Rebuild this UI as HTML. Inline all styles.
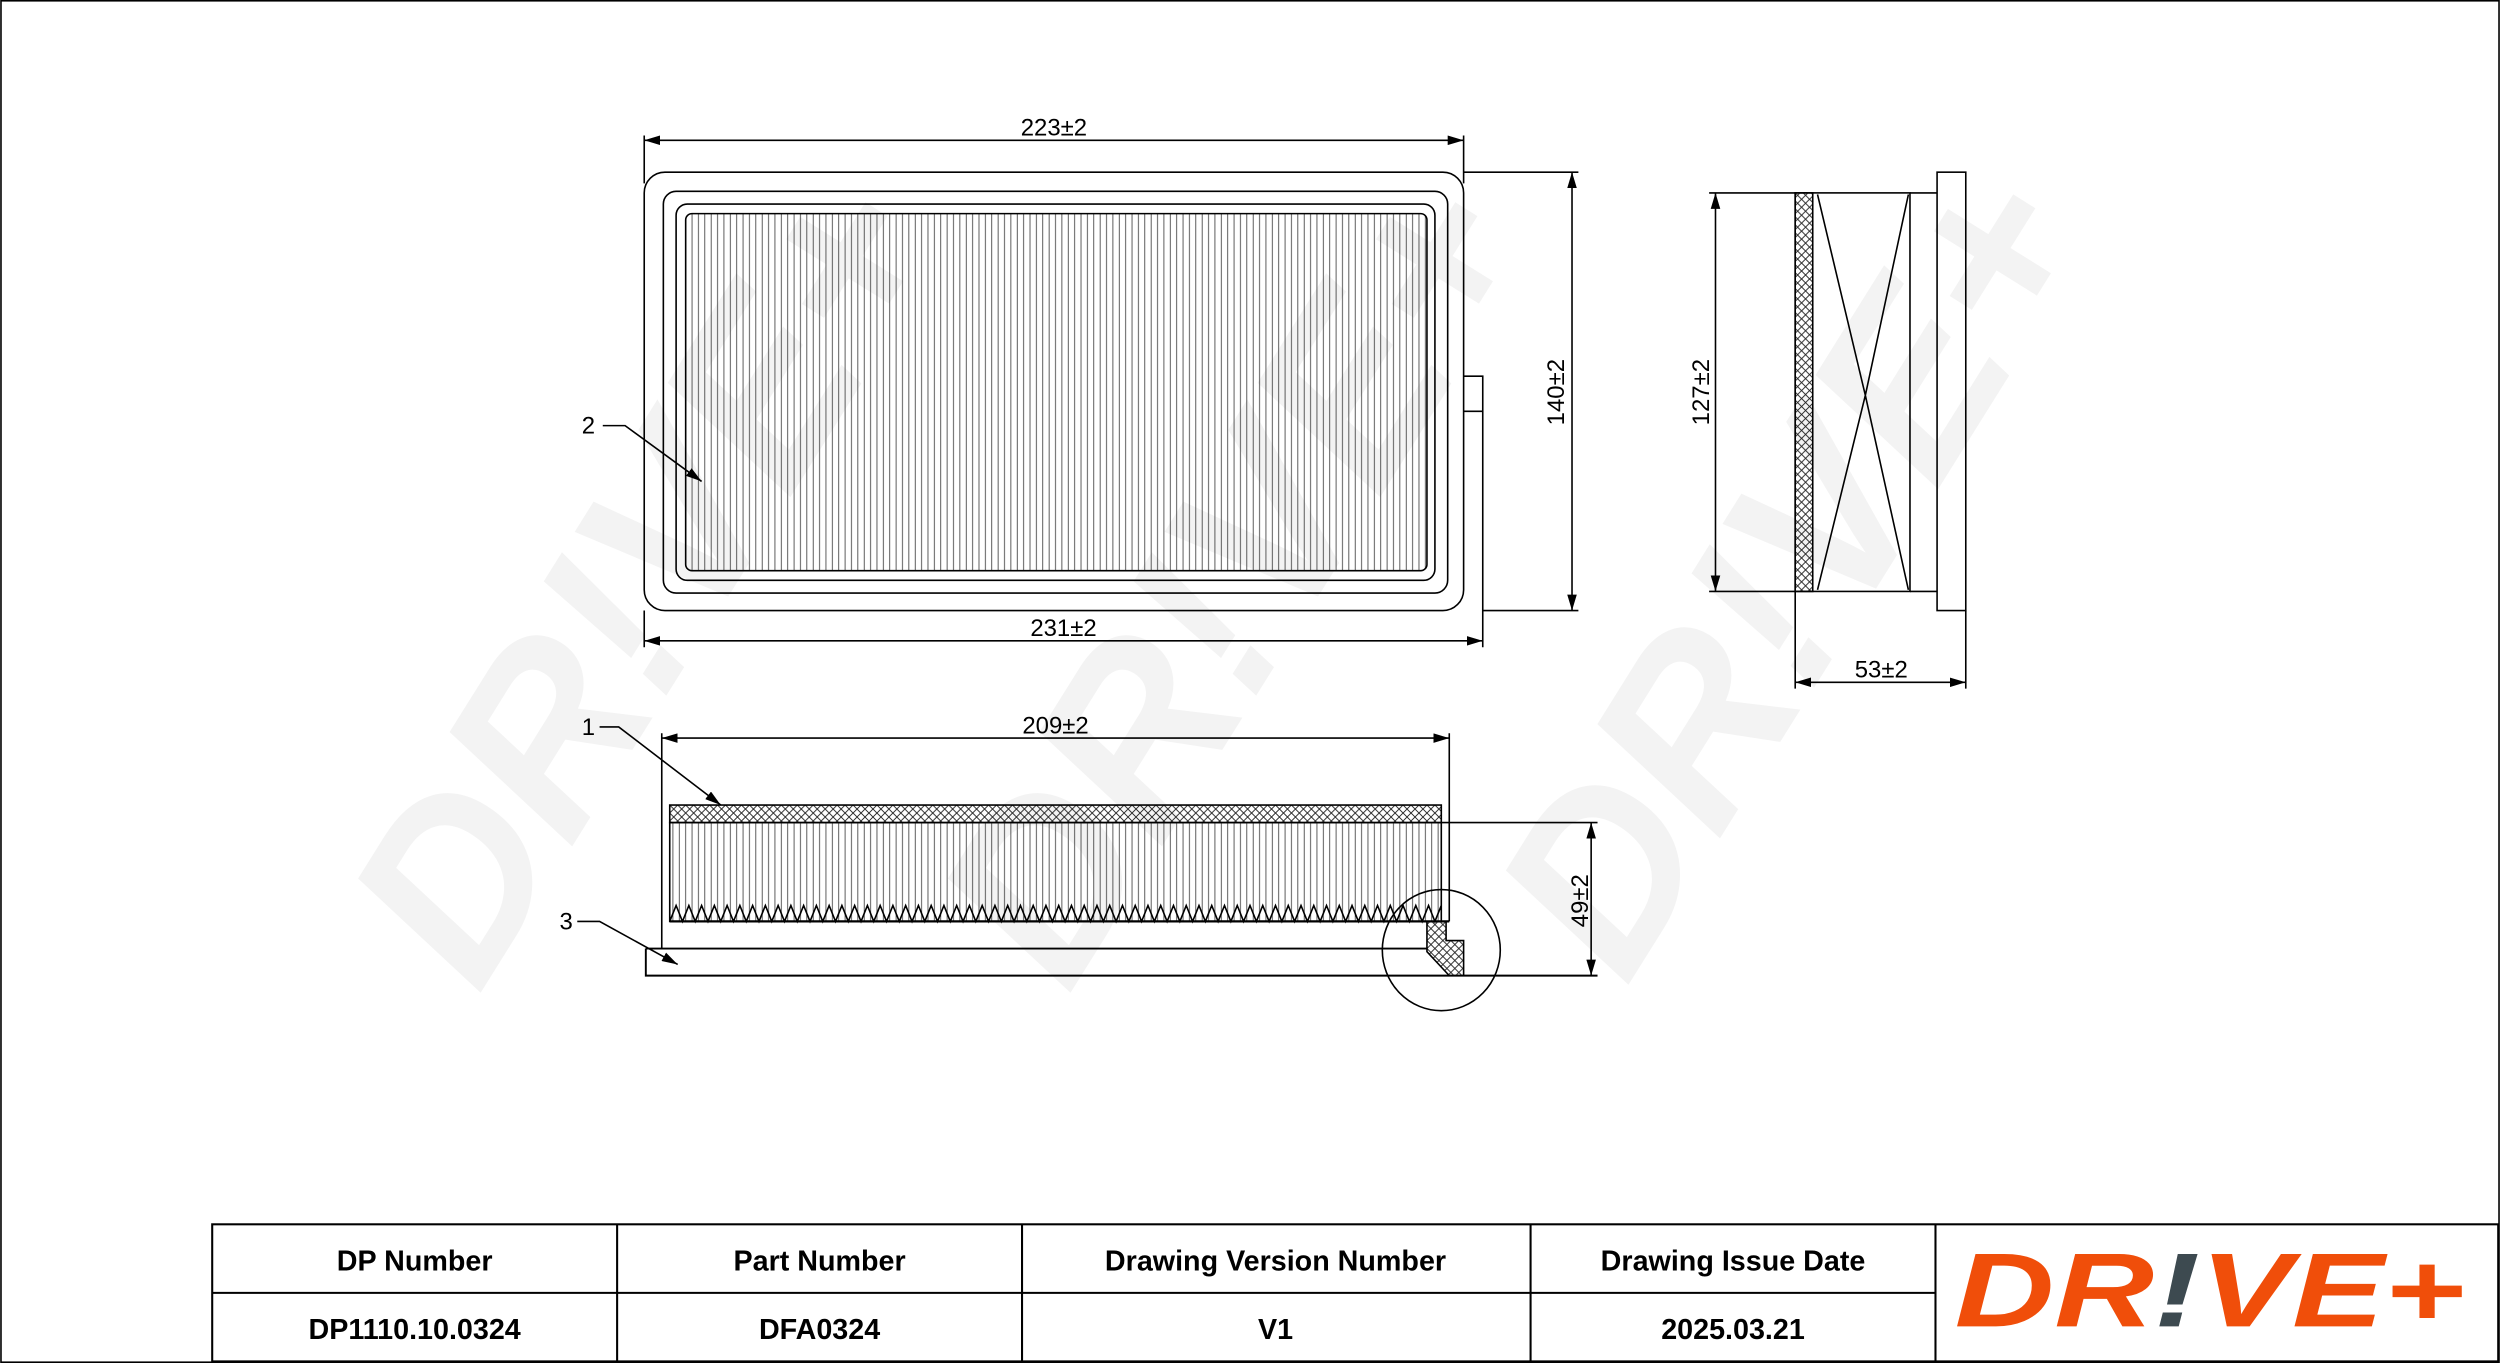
<!DOCTYPE html>
<html><head><meta charset="utf-8"><style>
html,body{margin:0;padding:0;background:#fff}
svg{display:block}
text{font-family:"Liberation Sans",sans-serif}
</style></head><body>
<svg width="2500" height="1363" viewBox="0 0 1568 855" xmlns="http://www.w3.org/2000/svg">
<defs>
<pattern id="pl" width="4" height="10" patternUnits="userSpaceOnUse"><line x1="2" y1="0" x2="2" y2="10" stroke="#333" stroke-width="0.5"/></pattern>
<pattern id="xh" width="5" height="5" patternUnits="userSpaceOnUse"><path d="M0,0L5,5M5,0L0,5" stroke="#222" stroke-width="0.6"/></pattern>
<marker id="a" markerWidth="10" markerHeight="6" refX="10" refY="3" orient="auto-start-reverse" markerUnits="userSpaceOnUse"><path d="M0,0L10,3L0,6z" fill="#000"/></marker>
</defs>
<rect x="0" y="0" width="1568" height="855" fill="#fff"/>
<g fill="#f3f3f3" font-weight="bold" font-style="italic" font-size="150">
<text transform="translate(300,625) rotate(-58)">DR!VE+</text>
<text transform="translate(670,625) rotate(-58)">DR!VE+</text>
<text transform="translate(1020,620) rotate(-58)">DR!VE+</text>
</g>
<rect x="0.5" y="0.5" width="1567" height="854" fill="none" stroke="#000"/>
<g fill="none" stroke="#000" stroke-width="1">
<rect x="404" y="108" width="514" height="275" rx="13"/>
<rect x="416" y="120" width="492" height="252" rx="8"/>
<rect x="424" y="128" width="476" height="236" rx="7"/>
<rect x="430" y="134" width="465" height="224" rx="4" fill="url(#pl)"/>
<path d="M918,236H930V383"/>
<path d="M918,258H930"/>
<path d="M404,85V115M918,85V115"/>
<line x1="404" y1="88" x2="918" y2="88" marker-start="url(#a)" marker-end="url(#a)"/>
<path d="M404,383V406M930,383V406"/>
<line x1="404" y1="402" x2="930" y2="402" marker-start="url(#a)" marker-end="url(#a)"/>
<path d="M918,108H990M930,383H990"/>
<line x1="986" y1="108" x2="986" y2="383" marker-start="url(#a)" marker-end="url(#a)"/>
<path d="M378,267H392L440,302" marker-end="url(#a)"/>
<rect x="1126" y="121" width="72" height="250"/>
<rect x="1126" y="121" width="11" height="250" fill="url(#xh)"/>
<path d="M1140,122L1170,248L1197,122M1140,370L1170,248L1197,370"/>
<path d="M1198,121H1215M1198,371H1215"/>
<rect x="1215" y="108" width="18" height="275"/>
<path d="M1072,121H1126M1072,371H1126"/>
<line x1="1076" y1="121" x2="1076" y2="371" marker-start="url(#a)" marker-end="url(#a)"/>
<path d="M1126,371V432M1233,383V432"/>
<line x1="1126" y1="428" x2="1233" y2="428" marker-start="url(#a)" marker-end="url(#a)"/>
<path d="M415,460V595M909,460V578"/>
<line x1="415" y1="463" x2="909" y2="463" marker-start="url(#a)" marker-end="url(#a)"/>
<rect x="420" y="505" width="484" height="11" fill="url(#xh)"/>
<rect x="420" y="516" width="484" height="62" fill="url(#pl)"/>
<path d="M420,578L424,568L428,578L432,568L436,578L440,568L444,578L448,568L452,578L456,568L460,578L464,568L468,578L472,568L476,578L480,568L484,578L488,568L492,578L496,568L500,578L504,568L508,578L512,568L516,578L520,568L524,578L528,568L532,578L536,568L540,578L544,568L548,578L552,568L556,578L560,568L564,578L568,568L572,578L576,568L580,578L584,568L588,578L592,568L596,578L600,568L604,578L608,568L612,578L616,568L620,578L624,568L628,578L632,568L636,578L640,568L644,578L648,568L652,578L656,568L660,578L664,568L668,578L672,568L676,578L680,568L684,578L688,568L692,578L696,568L700,578L704,568L708,578L712,568L716,578L720,568L724,578L728,568L732,578L736,568L740,578L744,568L748,578L752,568L756,578L760,568L764,578L768,568L772,578L776,568L780,578L784,568L788,578L792,568L796,578L800,568L804,578L808,568L812,578L816,568L820,578L824,568L828,578L832,568L836,578L840,568L844,578L848,568L852,578L856,568L860,578L864,568L868,578L872,568L876,578L880,568L884,578L888,568L892,578L896,568L900,578L904,568"/>
<path d="M420,578H909" stroke-width="1.4"/>
<path d="M405,595H895M405,595V612H1002" stroke-width="1.2"/>
<path d="M895,578H907V590H918V612H909L895,597z" fill="url(#xh)"/>
<ellipse cx="904" cy="596" rx="37" ry="38"/>
<path d="M904,516H1002"/>
<line x1="998" y1="516" x2="998" y2="612" marker-start="url(#a)" marker-end="url(#a)"/>
<path d="M376,456H388L452,505" marker-end="url(#a)"/>
<path d="M362,578H376L425,605" marker-end="url(#a)"/>
</g>
<g font-size="15" fill="#000" text-anchor="middle">
<text x="661" y="85">223±2</text>
<text x="667" y="399">231±2</text>
<text x="662" y="460">209±2</text>
<text x="1180" y="425">53±2</text>
<text transform="translate(981,246) rotate(-90)">140±2</text>
<text transform="translate(1072,246) rotate(-90)">127±2</text>
<text transform="translate(996,565) rotate(-90)">49±2</text>
<text x="369" y="272">2</text>
<text x="369" y="461">1</text>
<text x="355" y="583">3</text>
</g>
<g fill="none" stroke="#000" stroke-width="1.3">
<rect x="133" y="768" width="1434" height="86"/>
<path d="M133,811H1214M387,768V854M641,768V854M960,768V854M1214,768V854"/>
</g>
<g font-size="18" font-weight="bold" text-anchor="middle" fill="#000">
<text x="260" y="797">DP Number</text>
<text x="514" y="797">Part Number</text>
<text x="800" y="797">Drawing Version Number</text>
<text x="1087" y="797">Drawing Issue Date</text>
<text x="260" y="840">DP1110.10.0324</text>
<text x="514" y="840">DFA0324</text>
<text x="800" y="840">V1</text>
<text x="1087" y="840">2025.03.21</text>
</g>
<text x="1226" y="832" font-size="66" font-weight="bold" font-style="italic" fill="#f04e0a" textLength="320" lengthAdjust="spacingAndGlyphs">DR<tspan fill="#3d4a50">!</tspan>VE+</text>
</svg>
</body></html>
